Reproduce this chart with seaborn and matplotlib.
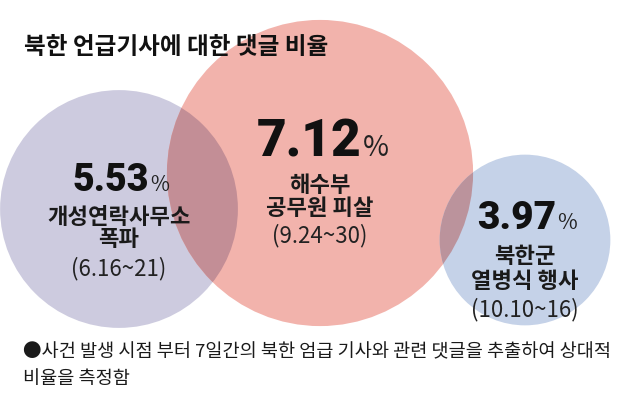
import matplotlib
matplotlib.use("Agg")
import matplotlib.pyplot as plt
from matplotlib.patches import Circle
import seaborn as sns
import numpy as np

sns.set_theme(style="white")
plt.rcParams['font.family'] = ['Noto Sans CJK KR', 'DejaVu Sans']

# ---- data ----
events = [["개성연락사무소", "폭파"], ["해수부", "공무원 피살"], ["북한군", "열병식 행사"]]
periods = ["(6.16~21)", "(9.24~30)", "(10.10~16)"]
ratios = [5.53, 7.12, 3.97]
title = "북한 언급기사에 대한 댓글 비율"
note = ["●사건 발생 시점 부터 7일간의 북한 엄급 기사와 관련 댓글을 추출하여 상대적",
        "비율을 측정함"]

# ---- layout / style ----
centers = [(119, 210), (320, 174), (525, 241)]
px_per_unit = 21.5
colors = ["#cdcbdf", "#f2b3ac", "#c5d2e8"]
num_sizes = [27, 37, 28]
num_y = [181, 143, 219]
lab_y = [(218, 240), (186, 209), (257, 282)]
per_y = [269, 236, 310]
junction = [149, 362, 556]

fig = plt.figure(figsize=(6.4, 4.1), dpi=100)
ax = fig.add_axes([0, 0, 1, 1])
ax.set_xlim(0, 640)
ax.set_ylim(410, 0)
ax.set_aspect("equal")
ax.axis("off")
fig.patch.set_facecolor("white")

def hex2rgb(h):
    return np.array([int(h[i:i + 2], 16) for i in (1, 3, 5)]) / 255.0

for (cx, cy), v, c in zip(centers, ratios, colors):
    ax.add_patch(Circle((cx, cy), v * px_per_unit, facecolor=c, edgecolor="none", zorder=1))

# overlaps drawn with multiplied colour, clipped to the other circle
for a, b in [(0, 1), (1, 2)]:
    mult = hex2rgb(colors[a]) * hex2rgb(colors[b])
    ov = Circle(centers[a], ratios[a] * px_per_unit, facecolor=mult, edgecolor="none", zorder=2)
    ax.add_patch(ov)
    clip = Circle(centers[b], ratios[b] * px_per_unit, transform=ax.transData)
    ov.set_clip_path(clip)

# title
ax.text(24, 47, title, fontsize=17, fontweight="black", color="#111111",
        ha="left", va="center", zorder=5)

numfam = ['Roboto', 'Lato', 'DejaVu Sans']
for i in range(3):
    cx = centers[i][0]
    ax.text(junction[i], num_y[i], f"{ratios[i]:.2f}", fontsize=num_sizes[i],
            fontweight="black", family=numfam, color="#111111",
            ha="right", va="center", zorder=5)
    ax.text(junction[i] + 1, num_y[i] + num_sizes[i] * 0.14, "%",
            fontsize=num_sizes[i] * 0.55, family=['Noto Sans CJK KR', 'DejaVu Sans'],
            color="#222222", ha="left", va="center", zorder=5)
    for line, ly in zip(events[i], lab_y[i]):
        ax.text(cx, ly, line, fontsize=16, fontweight="bold",
                color="#1a1a1a", ha="center", va="center", zorder=5)
    ax.text(cx, per_y[i], periods[i], fontsize=16, color="#222222",
            ha="center", va="center", zorder=5)

for line, ly in zip(note, [352, 379]):
    ax.text(23, ly, line, fontsize=13.4, color="#1a1a1a", ha="left", va="center", zorder=5)

fig.savefig("out.png", dpi=100, facecolor="white")
